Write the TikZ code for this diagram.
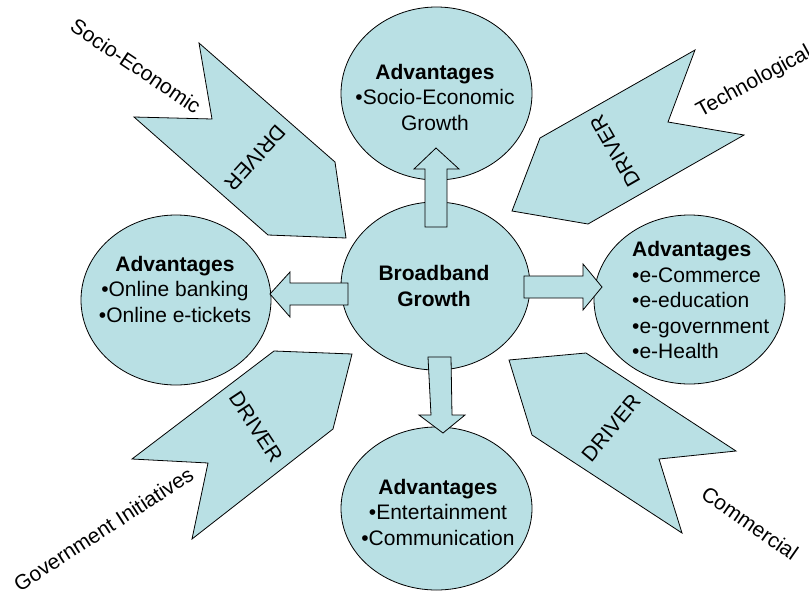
\documentclass[tikz,border=0pt]{standalone}
\usepackage{fontspec}
\setmainfont{Liberation Sans}
\usetikzlibrary{shapes.geometric}
\definecolor{bub}{RGB}{185,224,228}
\begin{document}
\begin{tikzpicture}[x=1pt,y=-1pt,
  bubble/.style={ellipse, draw=black, fill=bub, line width=0.8pt, inner sep=0pt},
  blk/.style={draw=black, fill=bub, line width=0.8pt, line join=miter},
  txt/.style={font=\fontsize{21}{25.5}\selectfont, inner sep=0pt, align=center},
  lbl/.style={font=\fontsize{21}{25.5}\selectfont, inner sep=0pt}
]
\useasboundingbox (0,0) rectangle (809,592);

% DRIVER chevrons
\draw[blk] (199,43) -- (335,162) -- (346,238) -- (268,235) -- (134,117) -- (212,119) -- cycle;
\draw[blk] (695,50) -- (668,122) -- (744,135) -- (588,224) -- (512,211) -- (540,138) -- cycle;
\draw[blk] (274,351) -- (352,354) -- (333,429) -- (192,539) -- (208,463) -- (132,459) -- cycle;
\draw[blk] (509,360) -- (586,353) -- (736,451) -- (659,459) -- (682,533) -- (532,435) -- cycle;

\node[lbl, rotate=228] (d1) at (255,158) {DRIVER};
\node[lbl, rotate=120] (d2) at (615,151) {DRIVER};
\node[lbl, rotate=-56.6] (d3) at (256,427) {DRIVER};
\node[lbl, rotate=50.5] (d4) at (611,428) {DRIVER};

% outer labels
\node[lbl, rotate=-34] (l1) at (136,66) {Socio-Economic};
\node[lbl, rotate=28.7] (l2) at (754,82) {Technological};
\node[lbl, rotate=32.9] (l3) at (103.5,529) {Government Initiatives};
\node[lbl, rotate=-34.9] (l4) at (750,523) {Commercial};

% ellipses
\node[bubble, minimum width=191pt, minimum height=173pt] (top) at (436.5,93.5) {};
\node[bubble, minimum width=190pt, minimum height=170pt] (left) at (176,300) {};
\node[bubble, minimum width=191pt, minimum height=169pt] (right) at (689.5,299.5) {};
\node[bubble, minimum width=191pt, minimum height=163pt] (bot) at (436.5,508.5) {};
\node[bubble, minimum width=189pt, minimum height=168pt] (ctr) at (435.5,286) {};

% texts
\node[txt] (ttop) at (435,97) {\textbf{Advantages}\\•Socio-Economic\\Growth};
\node[txt] (tleft) at (175,289) {\textbf{Advantages}\\•Online banking\\•Online e-tickets};
\node[txt, align=left, anchor=west] (tright) at (632,300) {\textbf{Advantages}\\•e-Commerce\\•e-education\\•e-government\\•e-Health};
\node[txt] (tbot) at (438,512) {\textbf{Advantages}\\•Entertainment\\•Communication};
\node[txt, font=\fontsize{21}{25.5}\selectfont\bfseries] (tctr) at (434,286) {Broadband\\Growth};

% block arrows
\draw[blk] (425,227) -- (425,169) -- (414,169) -- (436,148) -- (459,169) -- (447,169) -- (447,227) -- cycle;
\draw[blk] (348,283) -- (290,283) -- (290,272) -- (270,294) -- (290,317) -- (290,305) -- (348,305) -- cycle;
\draw[blk] (524,276) -- (583,276) -- (583,264) -- (602,287) -- (583,310) -- (583,298) -- (524,298) -- cycle;
\draw[blk] (428,357) -- (451,357) -- (452,415) -- (465,415) -- (443,433) -- (419,415) -- (431,415) -- cycle;
\end{tikzpicture}
\end{document}
